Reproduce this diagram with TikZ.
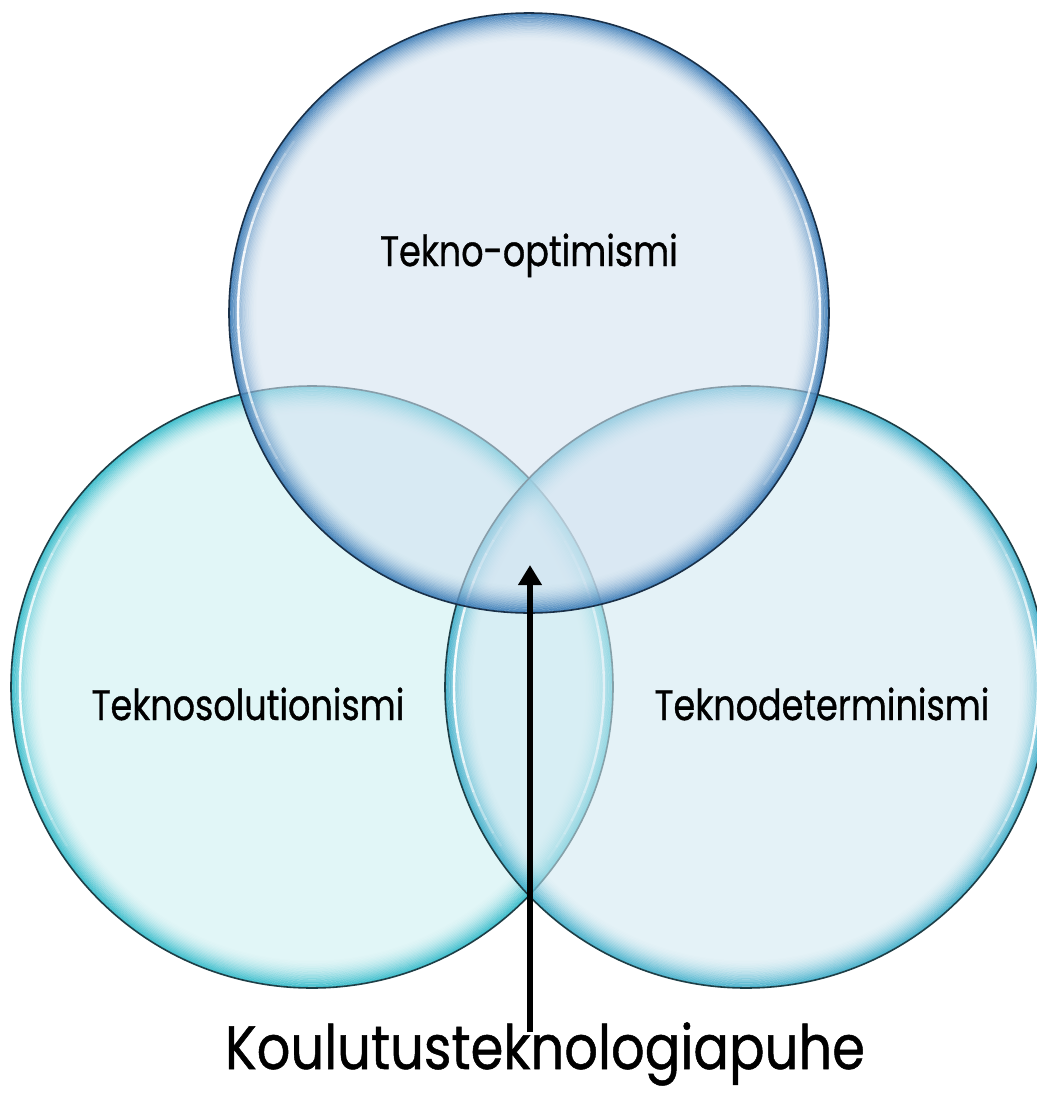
\documentclass[tikz,border=0pt]{standalone}
\usepackage{fontspec}
\setmainfont{Poppins}[FakeStretch=0.82,FakeBold=0.8]
\newfontfamily\bigfont{Poppins}[FakeStretch=0.86,FakeBold=0.8]
\usetikzlibrary{arrows.meta}
\definecolor{topfill}{HTML}{D3E2F1}
\definecolor{leftfill}{HTML}{CDF0F2}
\definecolor{rightfill}{HTML}{D1E9F2}
\definecolor{topglow}{HTML}{2A70B0}
\definecolor{leftglow}{HTML}{22B5C6}
\definecolor{rightglow}{HTML}{2FA8C6}
\definecolor{topborder}{HTML}{1A3048}
\definecolor{cyanborder}{HTML}{1E3E46}
\newcommand\mybubble[5]{%
  \fill[#3, fill opacity=0.58] (#1) circle (#2);
  \foreach \i in {0,...,20}{%
    \pgfmathsetmacro\op{0.8*(1-\i/21)^2}
    \draw[#4, draw opacity=\op, line width=1.1pt] (#1) circle ({#2-1-\i*1.35});
  }
  \foreach \a in {-36,-33,...,33}{%
    \pgfmathsetmacro\op{0.95*sin(180*(\a+37)/74)}
    \draw[white, draw opacity=\op, line width=1.8pt] (#1) ++(\a:{#2-9}) arc[start angle=\a, end angle=\a+3.2, radius={#2-9}];
    \draw[white, draw opacity=\op, line width=1.8pt] (#1) ++(180+\a:{#2-9}) arc[start angle=180+\a, end angle=183.2+\a, radius={#2-9}];
  }
  \draw[#5, line width=1.2pt] (#1) circle (#2);
}
\tikzset{
  label/.style={font=\fontsize{32}{36}\selectfont, text=black, inner sep=0pt},
  biglabel/.style={font=\bigfont\fontsize{46}{52}\selectfont, text=black, inner sep=0pt},
  arr/.style={-{Triangle[width=17pt,length=15pt]}, line width=3.8pt, black}
}
\begin{document}
\begin{tikzpicture}[x=0.75pt,y=-0.75pt]
\clip (0,0) rectangle (1037,1093);
\fill[white] (0,0) rectangle (1037,1093);
\coordinate (cL) at (312,687);
\coordinate (cR) at (746,687);
\coordinate (cT) at (529,313);
\mybubble{cL}{301}{leftfill}{leftglow}{cyanborder}
\mybubble{cR}{301}{rightfill}{rightglow}{cyanborder}
\mybubble{cT}{300}{topfill}{topglow}{topborder}
\node[label, anchor=base] (lt) at (529,266) {Tekno-optimismi};
\node[label, anchor=base] (ll) at (248,720) {Teknosolutionismi};
\node[label, anchor=base] (lr) at (822,720) {Teknodeterminismi};
\node[biglabel, anchor=base] (kp) at (545,1069) {Koulutusteknologiapuhe};
\coordinate (tip) at (530,565);
\coordinate (start) at (530,1032);
\draw[arr] (start) -- (tip);
\end{tikzpicture}
\end{document}
